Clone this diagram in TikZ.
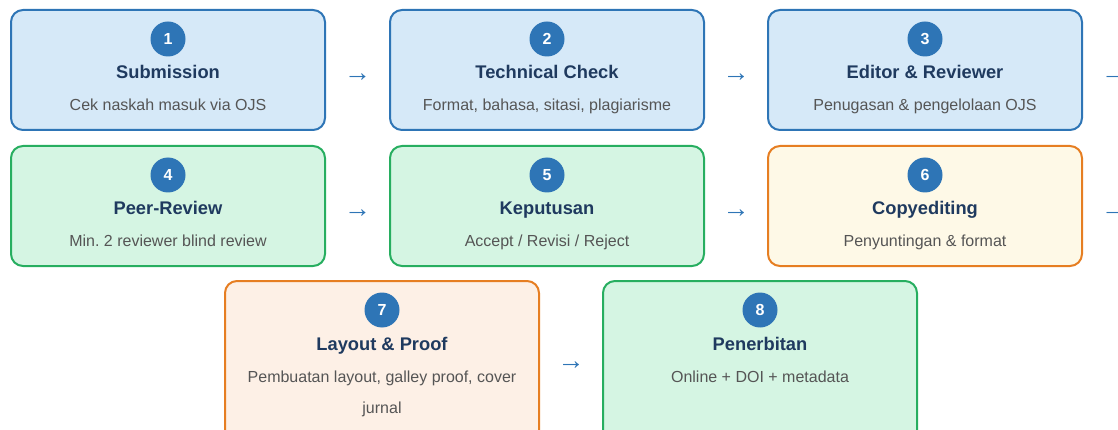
\documentclass[tikz,border=0pt]{standalone}
\usepackage{fontspec}
\setmainfont{Liberation Sans}
\usetikzlibrary{calc}
\definecolor{bluefill}{HTML}{D6E9F8}
\definecolor{blueline}{HTML}{2E75B6}
\definecolor{greenfill}{HTML}{D5F5E3}
\definecolor{greenline}{HTML}{27AE60}
\definecolor{yellowfill}{HTML}{FEF9E7}
\definecolor{orangeline}{HTML}{E67E22}
\definecolor{peachfill}{HTML}{FDF0E6}
\definecolor{titlecol}{HTML}{1F3A5F}
\definecolor{subcol}{HTML}{555555}
\frenchspacing
\begin{document}
\begin{tikzpicture}[x=1pt,y=-1pt,
  stepbox/.style={draw, line width=2pt, rounded corners=12pt, minimum width=314pt, minimum height=120pt, anchor=north west, inner sep=0pt},
  bluebox/.style={stepbox, fill=bluefill, draw=blueline},
  greenbox/.style={stepbox, fill=greenfill, draw=greenline},
  yellowbox/.style={stepbox, fill=yellowfill, draw=orangeline},
  peachbox/.style={stepbox, fill=peachfill, draw=orangeline},
  numc/.style={circle, fill=blueline, minimum size=35pt, inner sep=0pt, text=white, font=\fontsize{16}{18}\selectfont\bfseries},
  ttl/.style={anchor=base, inner sep=0pt, text=titlecol, font=\fontsize{18.3}{22}\selectfont\bfseries},
  sub/.style={anchor=base, inner sep=0pt, text=subcol, font=\fontsize{16}{19}\selectfont},
  arr/.style={anchor=base, inner sep=0pt, text=blueline, font=\fontsize{27}{30}\selectfont},
]
\useasboundingbox (0,0) rectangle (1118,430);
% row 1
\node[bluebox] (b1) at (10,9) {};
\node[bluebox] (b2) at (389,9) {};
\node[bluebox] (b3) at (767,9) {};
% row 2
\node[greenbox] (b4) at (10,145) {};
\node[greenbox] (b5) at (389,145) {};
\node[yellowbox] (b6) at (767,145) {};
% row 3
\node[peachbox, minimum height=162pt] (b7) at (224,280) {};
\node[greenbox, minimum height=162pt] (b8) at (602,280) {};

\foreach \b/\n/\t/\s in {b1/1/Submission/{Cek naskah masuk via OJS},
  b2/2/Technical Check/{Format, bahasa, sitasi, plagiarisme},
  b3/3/Editor \& Reviewer/{Penugasan \& pengelolaan OJS},
  b4/4/Peer-Review/{Min. 2 reviewer blind review},
  b5/5/Keputusan/{Accept / Revisi / Reject},
  b6/6/Copyediting/{Penyuntingan \& format}}{
  \node[numc] (n\b) at ($(\b.north)+(0,30)$) {\n};
  \node[ttl] (t\b) at ($(\b.north)+(0,70)$) {\t};
  \node[sub] (s\b) at ($(\b.north)+(0,102)$) {\s};
}
\node[numc] (nb7) at ($(b7.north)+(0,30)$) {7};
\node[ttl] (tb7) at ($(b7.north)+(0,70)$) {Layout \& Proof};
\node[sub] (sb7) at ($(b7.north)+(0,102)$) {Pembuatan layout, galley proof, cover};
\node[sub] (sb7b) at ($(b7.north)+(0,133)$) {jurnal};
\node[numc] (nb8) at ($(b8.north)+(0,30)$) {8};
\node[ttl] (tb8) at ($(b8.north)+(0,70)$) {Penerbitan};
\node[sub] (sb8) at ($(b8.north)+(0,102)$) {Online + DOI + metadata};

% arrows
\node[arr] (a12) at ($(b1.north east)!0.5!(b2.north west)+(0,73)$) {→};
\node[arr] (a23) at ($(b2.north east)!0.5!(b3.north west)+(0,73)$) {→};
\node[arr] (a3) at ($(b3.north east)+(31.5,73)$) {→};
\node[arr] (a45) at ($(b4.north east)!0.5!(b5.north west)+(0,73)$) {→};
\node[arr] (a56) at ($(b5.north east)!0.5!(b6.north west)+(0,73)$) {→};
\node[arr] (a6) at ($(b6.north east)+(31.5,73)$) {→};
\node[arr] (a78) at ($(b7.north east)!0.5!(b8.north west)+(0,89)$) {→};
\end{tikzpicture}
\end{document}
